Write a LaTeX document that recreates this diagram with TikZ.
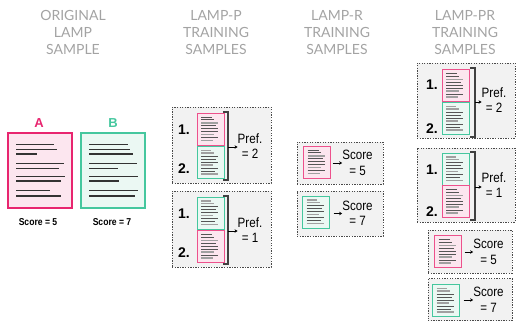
\documentclass[tikz,border=0pt]{standalone}
\usepackage{fontspec}
\setmainfont{Liberation Sans}
\newfontfamily\headfont{Lato}
\newfontfamily\condfont[FakeStretch=0.86]{Liberation Sans}
\usetikzlibrary{calc,arrows.meta}

\definecolor{pinkc}{HTML}{E8256F}
\definecolor{pinkfill}{HTML}{FCE6EF}
\definecolor{greenc}{HTML}{45C79E}
\definecolor{greenfill}{HTML}{EBF8F3}
\definecolor{boxfill}{HTML}{F2F2F2}
\definecolor{boxline}{HTML}{4A4A4A}
\definecolor{headgray}{HTML}{A3A3A3}
\definecolor{dl}{HTML}{555555}
\definecolor{ll}{HTML}{A0A0A0}

% text lines of the small documents, relative to the top-left corner
\newcommand\pinklines{%
  \foreach \yy/\ll/\cc/\ww in {4/11/dl/0.7, 6.5/13/dl/0.7, 10/17/ll/1.1, 12.8/15/dl/0.7,
      15.5/17/dl/0.7, 18.5/17/dl/0.7, 21.5/13/ll/1.1, 24.5/17/dl/0.7, 27.5/12/ll/1.1}
    \draw[color=\cc, line width=\ww pt]
      ($(path picture bounding box.north west)+(4,\yy)$) -- ++(\ll,0);}
\newcommand\greenlines{%
  \foreach \yy/\ll/\cc/\ww in {4/10/ll/1.1, 6.5/13/ll/1.1, 9.5/17/dl/0.7, 12.5/15/dl/0.7,
      15.5/17/dl/0.7, 18.5/12/ll/1.1, 21.5/17/dl/0.7, 24.5/14/dl/0.7, 27.5/17/ll/1.1}
    \draw[color=\cc, line width=\ww pt]
      ($(path picture bounding box.north west)+(4,\yy)$) -- ++(\ll,0);}

\tikzset{
  head/.style={align=center, text=headgray, inner sep=0pt,
    font=\headfont\fontsize{14}{17}\selectfont},
  bigdoc/.style={line width=1.8pt, minimum width=64pt, minimum height=75pt,
    inner sep=0pt, outer sep=0pt},
  bigline/.style={line width=1.2pt, color=black!80},
  letter/.style={font=\bfseries\fontsize{13}{13}\selectfont, inner sep=0pt},
  scorelab/.style={font=\condfont\bfseries\fontsize{10}{10}\selectfont, inner sep=0pt},
  sbox/.style={draw=boxline, fill=boxfill, line width=0.9pt,
    dash pattern=on 1.3pt off 1.3pt, inner sep=0pt},
  pdoc/.style={draw=pinkc!80, fill=pinkfill, line width=0.9pt, minimum width=27pt,
    minimum height=32pt, inner sep=0pt, outer sep=0pt, path picture={\pinklines}},
  gdoc/.style={draw=greenc, fill=greenfill, line width=0.9pt, minimum width=27pt,
    minimum height=32pt, inner sep=0pt, outer sep=0pt, path picture={\greenlines}},
  num/.style={font=\bfseries\fontsize{14}{14}\selectfont, inner sep=0pt},
  lab/.style={align=center, inner sep=0pt, font=\condfont\fontsize{13.5}{15.5}\selectfont},
  brk/.style={line width=1.6pt, color=black!75},
  arr/.style={line width=0.8pt, -{Stealth[length=3pt,width=3.5pt]}},
}

\begin{document}
\begin{tikzpicture}[x=1pt, y=-1pt]
\useasboundingbox (0,0) rectangle (516,322);

% column headings
\node[head] (h1) at (73,32.5) {ORIGINAL\\LAMP\\SAMPLE};
\node[head] (h2) at (216,32.5) {LAMP-P\\TRAINING\\SAMPLES};
\node[head] (h3) at (337,32.5) {LAMP-R\\TRAINING\\SAMPLES};
\node[head] (h4) at (465,32.5) {LAMP-PR\\TRAINING\\SAMPLES};

% original sample: documents A and B
\node[letter, text=pinkc] (labA) at (39,123) {A};
\node[letter, text=greenc] (labB) at (113,123) {B};
\node[bigdoc, draw=pinkc, fill=pinkfill] (docA) at (40,170.5) {};
\node[bigdoc, draw=greenc, fill=greenfill] (docB) at (113,170.5) {};
\foreach \yy/\ll in {11.3/38, 16.3/41, 21/21, 30.3/48, 35.7/43, 43.3/49, 48/45, 57.7/34, 63/45}
  \draw[bigline] ($(docA.north west)+(8,\yy)$) -- ++(\ll,0);
\foreach \yy/\ll in {11.3/39, 16.3/41, 21/44, 30.3/48, 35.7/29, 43.3/49, 48/30, 57.7/49, 63/46}
  \draw[bigline] ($(docB.north west)+(8,\yy)$) -- ++(\ll,0);
\node[scorelab] (scA) at (38,222) {Score = 5};
\node[scorelab] (scB) at (112,222) {Score = 7};

% LAMP-P: pair A over B
\node[sbox, minimum width=99pt, minimum height=76pt] (p1) at (221.5,145) {};
\node[num] (p1n1) at (184,130) {1.};
\node[num] (p1n2) at (184,169) {2.};
\node[pdoc] (p1d1) at (210.5,129) {};
\node[gdoc] (p1d2) at (210.5,162.5) {};
\coordinate (p1bt) at (228,112);
\coordinate (p1bb) at (228,180);
\coordinate (p1bm) at (228,147);
\draw[brk] ($(p1bt)+(-5,0)$) -- (p1bt) -- (p1bb) -- ++(-5,0);
\node[lab] (p1l) at (250,146) {Pref.\\= 2};
\draw[arr] (p1bm) -- (p1bm -| p1l.west);

% LAMP-P: pair B over A
\node[sbox, minimum width=99pt, minimum height=76pt] (p2) at (221.5,229) {};
\node[num] (p2n1) at (184,214) {1.};
\node[num] (p2n2) at (184,253) {2.};
\node[gdoc] (p2d1) at (210.5,213) {};
\node[pdoc] (p2d2) at (210.5,246.5) {};
\coordinate (p2bt) at (228,196);
\coordinate (p2bb) at (228,264);
\coordinate (p2bm) at (228,231);
\draw[brk] ($(p2bt)+(-5,0)$) -- (p2bt) -- (p2bb) -- ++(-5,0);
\node[lab] (p2l) at (250,230) {Pref.\\= 1};
\draw[arr] (p2bm) -- (p2bm -| p2l.west);

% LAMP-R: single documents with scores
\node[sbox, minimum width=86pt, minimum height=42pt] (r1) at (340,163) {};
\node[pdoc] (r1d) at (317,162) {};
\node[lab] (r1l) at (357.5,163) {Score\\= 5};
\draw[arr] (r1d.east |- r1l) ++(2,0) coordinate (r1a) -- (r1a -| r1l.west);
\node[sbox, minimum width=86pt, minimum height=45pt] (r2) at (340,213.5) {};
\node[gdoc] (r2d) at (316,212) {};
\node[lab] (r2l) at (357.5,213.5) {Score\\= 7};
\draw[arr] (r2d.east |- r2l) ++(4,0) coordinate (r2a) -- (r2a -| r2l.west);

% LAMP-PR: both pairs and both single documents
\node[sbox, minimum width=98pt, minimum height=75pt] (q1) at (466,100.5) {};
\node[num] (q1n1) at (432,85) {1.};
\node[num] (q1n2) at (432,129) {2.};
\node[pdoc] (q1d1) at (455.5,85.5) {};
\node[gdoc] (q1d2) at (455.5,118.5) {};
\coordinate (q1bt) at (475,68);
\coordinate (q1bb) at (475,137);
\coordinate (q1bm) at (475,102);
\draw[brk] ($(q1bt)+(-5,0)$) -- (q1bt) -- (q1bb) -- ++(-5,0);
\node[lab] (q1l) at (494,100) {Pref.\\= 2};
\draw[arr] (q1bm) -- (q1bm -| q1l.west);

\node[sbox, minimum width=98pt, minimum height=74pt] (q2) at (466,185) {};
\node[num] (q2n1) at (432,170) {1.};
\node[num] (q2n2) at (432,212) {2.};
\node[gdoc] (q2d1) at (455.5,169) {};
\node[pdoc] (q2d2) at (455.5,201.5) {};
\coordinate (q2bt) at (475,152);
\coordinate (q2bb) at (475,220);
\coordinate (q2bm) at (475,187);
\draw[brk] ($(q2bt)+(-5,0)$) -- (q2bt) -- (q2bb) -- ++(-5,0);
\node[lab] (q2l) at (494,185) {Pref.\\= 1};
\draw[arr] (q2bm) -- (q2bm -| q2l.west);

\node[sbox, minimum width=84pt, minimum height=43pt] (q3) at (470,251.5) {};
\node[pdoc] (q3d) at (448,251.5) {};
\node[lab] (q3l) at (488.5,252) {Score\\= 5};
\draw[arr] (q3d.east |- q3l) ++(3,0) coordinate (q3a) -- (q3a -| q3l.west);
\node[sbox, minimum width=84pt, minimum height=42pt] (q4) at (470,299.5) {};
\node[gdoc] (q4d) at (446,300.5) {};
\node[lab] (q4l) at (488.5,300) {Score\\= 7};
\draw[arr] (q4d.east |- q4l) ++(4,0) coordinate (q4a) -- (q4a -| q4l.west);
\end{tikzpicture}
\end{document}
